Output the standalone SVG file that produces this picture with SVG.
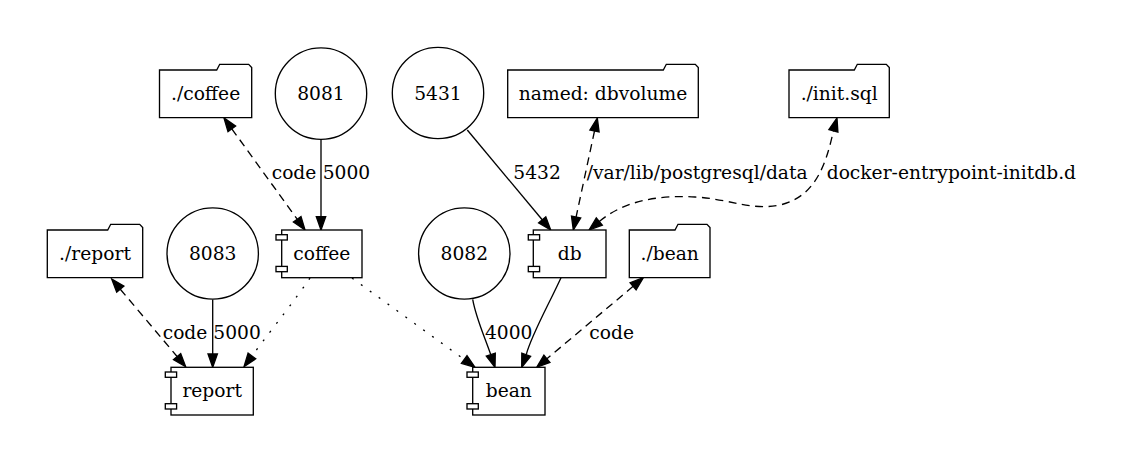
<svg xmlns="http://www.w3.org/2000/svg" width="1126" height="464" viewBox="0 0 1126 464">
<style>
text{font-family:"DejaVu Serif","Liberation Serif",serif;font-size:18.67px;fill:#000}
.n text{text-anchor:middle}
.shape{fill:#fff;stroke:#000;stroke-width:1.33}
.e{fill:none;stroke:#000;stroke-width:1.33}
.dash{stroke-dasharray:8,5.5}
.dot{stroke-dasharray:2,9}
.ah{fill:#000;stroke:#000;stroke-width:1.33}
</style>
<rect width="1126" height="464" fill="#fff"/>
<g id="connectors">
  <!-- 8081 -> coffee -->
  <line class="e" x1="321" y1="139.5" x2="321" y2="216.7"/>
  <polygon class="ah" points="321,230 316.3,216.7 325.7,216.7"/>
  <!-- ./coffee <-> coffee -->
  <line class="e dash" x1="231.8" y1="128.8" x2="297.2" y2="219.2"/>
  <polygon class="ah" points="305,230 293.4,222 301,216.5"/>
  <polygon class="ah" points="224,118 228,131.6 235.6,126.1"/>
  <!-- 5431 -> db -->
  <line class="e" x1="467.3" y1="130" x2="542.2" y2="219.8"/>
  <polygon class="ah" points="550.7,230 538.6,222.8 545.8,216.8"/>
  <!-- dbvolume <-> db -->
  <line class="e dash" x1="594.5" y1="131" x2="576.1" y2="217"/>
  <polygon class="ah" points="573.3,230 571.5,216 580.7,218"/>
  <polygon class="ah" points="597.3,118 589.9,130 599.1,132"/>
  <!-- init.sql <-> db -->
  <path class="e dash" d="M599.3,221.5 C625,200 660,195 695,197 C730,199 752,211 780,205 C815,197 826,165 833.4,130.8"/>
  <polygon class="ah" points="589,230 596.3,217.9 602.3,225.1"/>
  <polygon class="ah" points="837,118 837.9,132.1 828.9,129.5"/>
  <!-- db -> bean -->
  <path class="e" d="M561,277.7 C549,304 531,336 526.2,354.8"/>
  <polygon class="ah" points="521.7,367.3 521.8,353.2 530.6,356.4"/>
  <!-- 8082 -> bean -->
  <path class="e" d="M472.7,299.3 C476,318 484,335 490.8,354.7"/>
  <polygon class="ah" points="495,367.3 486.3,356.2 495.3,353.2"/>
  <!-- ./bean <-> bean -->
  <line class="e dash" x1="633.1" y1="286.3" x2="546.9" y2="358.8"/>
  <polygon class="ah" points="536.7,367.3 543.9,355.2 549.9,362.4"/>
  <polygon class="ah" points="643.3,277.7 630.1,282.7 636.1,289.9"/>
  <!-- ./report <-> report -->
  <line class="e dash" x1="120.3" y1="289.2" x2="177.1" y2="356.5"/>
  <polygon class="ah" points="185.7,366.7 173.5,359.6 180.7,353.5"/>
  <polygon class="ah" points="111.7,279 116.7,292.2 123.9,286.1"/>
  <!-- 8083 -> report -->
  <line class="e" x1="212.7" y1="299.5" x2="212.7" y2="354"/>
  <polygon class="ah" points="212.7,367.3 208,354 217.4,354"/>
  <!-- coffee -> report -->
  <path class="e dot" d="M310,278 C295,300 275,325 251.9,356"/>
  <polygon class="ah" points="244,366.7 248.1,353.2 255.7,358.8"/>
  <!-- coffee -> bean -->
  <line class="e dot" x1="352" y1="278" x2="464.2" y2="359.5"/>
  <polygon class="ah" points="475,367.3 461.4,363.3 467,355.7"/>
  <!-- labels -->
  <text x="271.7" y="179">code</text>
  <text x="322.7" y="179">5000</text>
  <text x="513.3" y="179">5432</text>
  <text x="586.7" y="179">/var/lib/postgresql/data</text>
  <text x="826.7" y="179">docker-entrypoint-initdb.d</text>
  <text x="162.7" y="339">code</text>
  <text x="213.3" y="339">5000</text>
  <text x="485" y="339">4000</text>
  <text x="589.3" y="339">code</text>
</g>
<g id="vol_coffee" class="n">
  <polygon class="shape" points="251.7,117.7 159.5,117.7 159.5,70 216.7,70 219.7,64.3 248.7,64.3 251.7,67.5"/>
  <text x="205.6" y="99.8">./coffee</text>
</g>
<g id="port_8081" class="n">
  <circle class="shape" cx="321" cy="93.6" r="45.7"/>
  <text x="321" y="100.2">8081</text>
</g>
<g id="port_5431" class="n">
  <circle class="shape" cx="438" cy="93" r="45.7"/>
  <text x="438" y="99.6">5431</text>
</g>
<g id="vol_dbvolume" class="n">
  <polygon class="shape" points="698.3,117.7 507.7,117.7 507.7,70 663.3,70 666.3,64.3 695.3,64.3 698.3,67.5"/>
  <text x="603" y="99.8">named: dbvolume</text>
</g>
<g id="vol_init" class="n">
  <polygon class="shape" points="889.3,117.7 789,117.7 789,70 854.3,70 857.3,64.3 886.3,64.3 889.3,67.5"/>
  <text x="839.2" y="99.8">./init.sql</text>
</g>
<g id="vol_report" class="n">
  <polygon class="shape" points="142.7,277.7 47.3,277.7 47.3,230 107.7,230 110.7,224.3 139.7,224.3 142.7,227.5"/>
  <text x="95" y="259.8">./report</text>
</g>
<g id="port_8083" class="n">
  <circle class="shape" cx="212.7" cy="253.5" r="45.7"/>
  <text x="212.7" y="260.1">8083</text>
</g>
<g id="coffee" class="n">
  <rect class="shape" x="281.7" y="230" width="80.3" height="47.7"/>
  <rect class="shape" x="276" y="234.7" width="11.3" height="5.3"/>
  <rect class="shape" x="276" y="266.4" width="11.3" height="5.3"/>
  <text x="321.8" y="259.8">coffee</text>
</g>
<g id="port_8082" class="n">
  <circle class="shape" cx="464.3" cy="253.5" r="45.7"/>
  <text x="464.3" y="260.1">8082</text>
</g>
<g id="db" class="n">
  <rect class="shape" x="533.3" y="230" width="72.7" height="47.7"/>
  <rect class="shape" x="528.3" y="234.7" width="11.3" height="5.3"/>
  <rect class="shape" x="528.3" y="266.4" width="11.3" height="5.3"/>
  <text x="569.7" y="259.8">db</text>
</g>
<g id="vol_bean" class="n">
  <polygon class="shape" points="710,277.7 629.3,277.7 629.3,230 675,230 678,224.3 707,224.3 710,227.5"/>
  <text x="669.7" y="259.8">./bean</text>
</g>
<g id="report" class="n">
  <rect class="shape" x="171" y="367.3" width="82.3" height="47.7"/>
  <rect class="shape" x="165.3" y="372" width="11.3" height="5.3"/>
  <rect class="shape" x="165.3" y="403.7" width="11.3" height="5.3"/>
  <text x="212.2" y="397.1">report</text>
</g>
<g id="bean" class="n">
  <rect class="shape" x="472.7" y="367.3" width="72.3" height="47.7"/>
  <rect class="shape" x="467" y="372" width="11.3" height="5.3"/>
  <rect class="shape" x="467" y="403.7" width="11.3" height="5.3"/>
  <text x="508.8" y="397.1">bean</text>
</g>
</svg>
